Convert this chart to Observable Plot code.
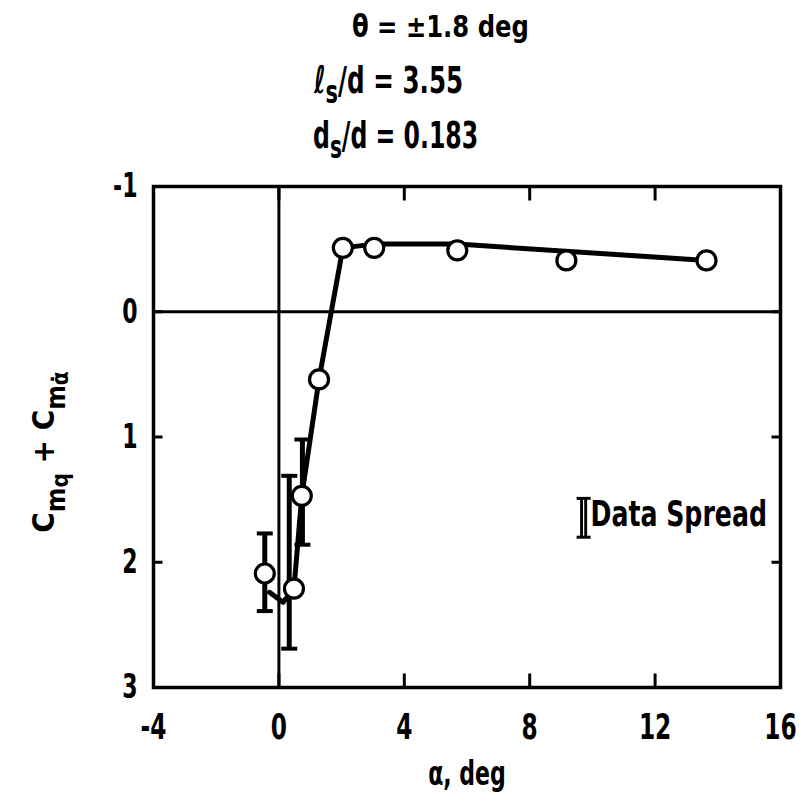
<!DOCTYPE html>
<html>
<head>
<meta charset="utf-8">
<script src="https://cdn.jsdelivr.net/npm/d3@7"></script>
<script src="https://cdn.jsdelivr.net/npm/@observablehq/plot@0.6"></script>
<style>
  body { margin: 0; background: #fff; }
  #wrap { position: relative; width: 806px; height: 801px; overflow: hidden;
    font-family: "DejaVu Sans Condensed", "DejaVu Sans", sans-serif; font-stretch: condensed; font-weight: bold; color: #000; }
  .t { position: absolute; white-space: nowrap; line-height: 1; display: inline-block; transform-origin: left center; }
  .t sub { font-size: 0.85em; vertical-align: -0.3em; line-height: 0; }
  #ylab { position: absolute; left: 44px; top: 452px; transform: translate(-50%, -50%) rotate(-90deg); font-size: 31px; white-space: nowrap; line-height: 1; }
  #ylab sub { font-size: 0.85em; vertical-align: -0.4em; line-height: 0; }
  #ylab sub sub { font-size: 0.85em; vertical-align: -0.15em; }
  #chart { position: absolute; left: 0; top: 0; }
</style>
</head>
<body>
<div id="wrap">
  <div id="chart"></div>
  <div class="t" style="left:352px; top:11px; font-size:31px; transform: scaleX(0.87);">θ = ±1.8 deg</div>
  <div class="t" style="left:314px; top:61px; font-size:38px; transform: scaleX(0.72);">ℓ<sub>s</sub>/d = 3.55</div>
  <div class="t" style="left:313px; top:116px; font-size:38px; transform: scaleX(0.69);">d<sub>s</sub>/d = 0.183</div>
  <div id="ylab">C<sub>m<sub>q</sub></sub> + C<sub>m<sub>α̇</sub></sub></div>
</div>
<script>
// Measured data points (alpha, deg ; Cmq + Cmalpha-dot)
const alphaDeg = [-0.45, 0.48, 0.73, 1.28, 2.04, 3.04, 5.69, 9.17, 13.64];
const cmSum    = [2.09, 2.21, 1.47, 0.54, -0.51, -0.51, -0.49, -0.41, -0.41];

// Faired curve
const fairAlpha = [-0.3, 0.13, 0.48, 0.73, 1.28, 2.04, 3.04, 5.69, 13.64];
const fairCm    = [2.24, 2.32, 2.21, 1.47, 0.54, -0.51, -0.54, -0.54, -0.41];

// Data spread bars
const spreadAlpha = [-0.45, 0.33, 0.75];
const spreadLow   = [1.77, 1.31, 1.02];
const spreadHigh  = [2.39, 2.69, 1.86];

// Legend bar and text
const legendAlpha = [9.72];
const legendLow = [1.49];
const legendHigh = [1.80];
const legendText = ["Data Spread"];
const legendTextAlpha = [9.94];
const legendTextCm = [1.62];

// Axes
const xDomain = [-4, 16];
const yDomain = [3, -1];
const xTicks = [-4, 0, 4, 8, 12, 16];
const yTicks = [-1, 0, 1, 2, 3];
const xInnerTicks = [0, 4, 8, 12];
const yInnerTicks = [0, 1, 2];
const xLabel = ["α, deg"];

const points = alphaDeg.map((a, i) => ({a, c: cmSum[i]}));
const fair = fairAlpha.map((a, i) => ({a, c: fairCm[i]}));
const spread = spreadAlpha.map((a, i) => ({a, lo: spreadLow[i], hi: spreadHigh[i]}));
const legend = legendAlpha.map((a, i) => ({a, lo: legendLow[i], hi: legendHigh[i]}));
const spreadEnds = spread.flatMap(d => [{a: d.a, c: d.lo}, {a: d.a, c: d.hi}]);
const legendEnds = legend.flatMap(d => [{a: d.a, c: d.lo}, {a: d.a, c: d.hi}]);
const legendLabels = legendText.map((t, i) => ({t, a: legendTextAlpha[i], c: legendTextCm[i]}));

const rad = s => Math.sqrt(s / Math.PI);
const capSym = {draw(ctx, s) { const r = rad(s); ctx.moveTo(-r, 0); ctx.lineTo(r, 0); }};
const tickUp = {draw(ctx, s) { ctx.moveTo(0, 0); ctx.lineTo(0, -rad(s)); }};
const tickDown = {draw(ctx, s) { ctx.moveTo(0, 0); ctx.lineTo(0, rad(s)); }};
const tickRight = {draw(ctx, s) { ctx.moveTo(0, 0); ctx.lineTo(rad(s), 0); }};
const tickLeft = {draw(ctx, s) { ctx.moveTo(0, 0); ctx.lineTo(-rad(s), 0); }};

const font = '"DejaVu Sans Condensed", "DejaVu Sans", sans-serif';
const fmt = d => d < 0 ? "-" + Math.abs(d) : String(d);

const chart = Plot.plot({
  width: 806,
  height: 801,
  marginLeft: 153,
  marginRight: 26,
  marginTop: 186,
  marginBottom: 114,
  style: {fontFamily: font, fontWeight: "bold", fontStretch: "condensed", fontSize: "34px", color: "#000", background: "#fff", overflow: "visible"},
  x: {domain: xDomain},
  y: {domain: yDomain},
  marks: [
    Plot.axisX({ticks: xTicks, tickSize: 0, tickPadding: 26, fontSize: 36, label: null, tickFormat: fmt}),
    Plot.axisY({ticks: yTicks, tickSize: 0, tickPadding: 16, fontSize: 34, label: null, tickFormat: fmt}),
    Plot.text(xLabel, {text: d => d, frameAnchor: "bottom", dy: 97, fontSize: 34, fill: "#000"}),
    Plot.ruleX([0], {stroke: "#000", strokeWidth: 3}),
    Plot.ruleY([0], {stroke: "#000", strokeWidth: 3}),
    Plot.frame({stroke: "#000", strokeWidth: 3.5}),
    Plot.dot(xInnerTicks, {x: d => d, frameAnchor: "bottom", symbol: tickUp, r: 14, stroke: "#000", fill: "none", strokeWidth: 3}),
    Plot.dot(xInnerTicks, {x: d => d, frameAnchor: "top", symbol: tickDown, r: 14, stroke: "#000", fill: "none", strokeWidth: 3}),
    Plot.dot(yInnerTicks, {y: d => d, frameAnchor: "left", symbol: tickRight, r: 9, stroke: "#000", fill: "none", strokeWidth: 3}),
    Plot.dot(yInnerTicks, {y: d => d, frameAnchor: "right", symbol: tickLeft, r: 9, stroke: "#000", fill: "none", strokeWidth: 3}),
    // data spread
    Plot.ruleX(spread, {x: "a", y1: "lo", y2: "hi", stroke: "#000", strokeWidth: 5}),
    Plot.dot(spreadEnds, {x: "a", y: "c", symbol: capSym, r: 8, stroke: "#000", fill: "none", strokeWidth: 4}),
    // faired curve
    Plot.line(fair, {x: "a", y: "c", stroke: "#000", strokeWidth: 5, strokeLinejoin: "round", curve: "linear"}),
    Plot.dot(points, {x: "a", y: "c", r: 9.5, fill: "#fff", stroke: "#000", strokeWidth: 3.2, symbol: "circle"}),
    // legend
    Plot.ruleX(legend, {x: "a", y1: "lo", y2: "hi", stroke: "#000", strokeWidth: 7}),
    Plot.ruleX(legend, {x: "a", y1: "lo", y2: "hi", stroke: "#fff", strokeWidth: 1.2}),
    Plot.dot(legendEnds, {x: "a", y: "c", symbol: capSym, r: 7, stroke: "#000", fill: "none", strokeWidth: 3}),
    Plot.text(legendLabels, {x: "a", y: "c", text: "t", textAnchor: "start", fontSize: 35, fill: "#000", className: "legend-text"})
  ]
});
// Narrow the lettering (the original uses a tall condensed face)
chart.querySelectorAll("text").forEach(el => {
  const squeeze = el.closest(".legend-text") ? 0.8 : 0.72;
  const t = el.getAttribute("transform") || "";
  if (el.hasAttribute("x") || el.hasAttribute("y")) {
    const x = +el.getAttribute("x") || 0, y = +el.getAttribute("y") || 0;
    el.setAttribute("transform", `${t} translate(${x},${y}) scale(${squeeze},1) translate(${-x},${-y})`);
  } else {
    el.setAttribute("transform", `${t} scale(${squeeze},1)`);
  }
});
document.getElementById("chart").appendChild(chart);
</script>
</body>
</html>
